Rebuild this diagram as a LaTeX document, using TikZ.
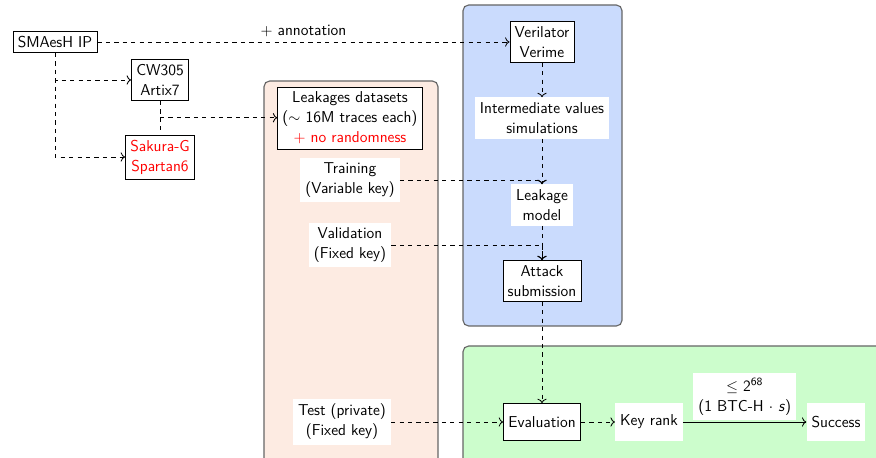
\documentclass[tikz,border=0pt]{standalone}
\usepackage{tikz}
\usetikzlibrary{arrows.meta,positioning,calc}
\definecolor{datafill}{HTML}{FDEBE2}
\definecolor{simfill}{HTML}{CADBFD}
\definecolor{evalfill}{HTML}{CCFDCC}

\begin{document}
\begin{tikzpicture}[
  x=0.025cm, y=-0.025cm,
  font=\sffamily\fontsize{11.2pt}{14.3pt}\selectfont,
  box/.style={draw, fill=white, align=center, inner sep=3.5pt, thin},
  lbl/.style={fill=white, align=center, inner sep=3.5pt},
  tall/.style={minimum height=9.3mm},
  panel/.style={draw=black!60, thick, rounded corners=4pt},
  arr/.style={-{To[length=1.1mm]}, dashed, semithick}
]
\useasboundingbox (0,0) rectangle (876,458);
\clip (0,0) rectangle (876,458);
% panels
\filldraw[panel, fill=datafill] (264,81) rectangle (438,480);
\filldraw[panel, fill=simfill] (463,5) rectangle (622,326);
\filldraw[panel, fill=evalfill] (463,346) rectangle (900,480);
% targets
\node[box] (smaesh) at (55,42) {SMAesH IP};
\node[box] (cw) at (160,80) {CW305\\ Artix7};
\node[box, text=red] (sakura) at (160,157) {Sakura-G\\ Spartan6};
% datasets
\node[box] (leakset) at (350,118) {Leakages datasets\\ ($\sim$ 16M traces each)\\
  \textcolor{red}{$+$ no randomness}};
\node[lbl] (train) at (350,180) {Training\\ (Variable key)};
\node[lbl] (valid) at (350,245) {Validation\\ (Fixed key)};
\node[lbl] (test) at (342,422) {Test (private)\\ (Fixed key)};
% simulation / attack
\node[box] (veri) at (542,42) {Verilator\\ Verime};
\node[lbl] (interm) at (542,118) {Intermediate values\\ simulations};
\node[lbl] (leakmod) at (542,205) {Leakage\\ model};
\node[box] (attack) at (542,281) {Attack\\ submission};
% evaluation
\node[box, tall] (evalbox) at (542,422) {Evaluation};
\node[lbl, tall, right=8.5mm of evalbox] (keyrank) {Key rank};
\node[lbl, tall] (success) at (836,422) {Success};

\draw[arr] (smaesh) -- node[above]{$+$ annotation} (veri);
\draw[arr] (smaesh.south) |- (cw.west);
\draw[arr] (smaesh.south) |- (sakura.west);
\coordinate (split) at ($(cw.south)!.5!(sakura.north)$);
\draw[dashed, semithick] (cw.south) -- (sakura.north);
\draw[arr] (split) -- (split -| leakset.west);
\draw[arr] (veri) -- (interm);
\draw[arr] (interm) -- (leakmod);
\draw[arr] (train.east) -| (leakmod.north);
\draw[arr] (leakmod) -- (attack);
\draw[arr] (valid.east) -| (attack.north);
\draw[arr] (attack) -- (evalbox);
\draw[arr] (test) -- (evalbox);
\draw[arr] (evalbox) -- (keyrank);
\draw[-{To[length=1.1mm]}, semithick] (keyrank) -- node[lbl, above=1pt]
  {$\leq$ 2\textsuperscript{68}\\ (1 BTC-H $\cdot$ \textit{s})} (success);
\end{tikzpicture}
\end{document}
